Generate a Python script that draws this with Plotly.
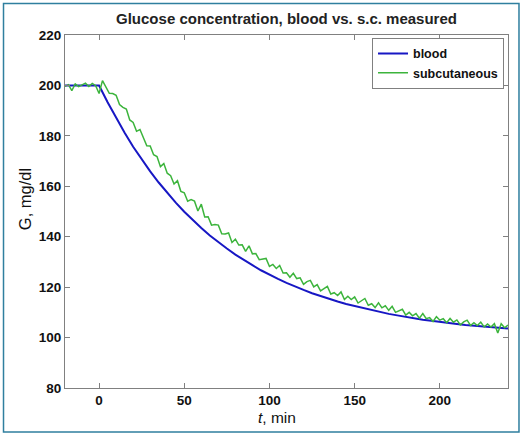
import plotly.graph_objects as go

# ---- data ----
blood_t = [-20, -15, -10, -5, 0, 5, 10, 15, 20, 25, 30, 35, 40, 45, 50, 55, 60, 65, 70, 75,
           80, 85, 90, 95, 100, 105, 110, 115, 120, 125, 130, 135, 140, 145, 150, 155, 160,
           165, 170, 175, 180, 185, 190, 195, 200, 205, 210, 215, 220, 225, 230, 235, 240]
blood_g = [200.0, 200.0, 200.0, 200.0, 200.0, 193.3, 187.0, 181.2, 175.7, 170.7, 165.9, 161.5,
           157.4, 153.5, 149.9, 146.6, 143.5, 140.5, 137.8, 135.3, 132.9, 130.7, 128.7, 126.7,
           124.9, 123.3, 121.7, 120.2, 118.9, 117.6, 116.4, 115.3, 114.3, 113.3, 112.5, 111.6,
           110.8, 110.1, 109.4, 108.8, 108.2, 107.7, 107.1, 106.7, 106.2, 105.8, 105.4, 105.0,
           104.7, 104.4, 104.1, 103.8, 103.6]

sc_t = list(range(-20, 241, 2))
sc_g = [199.6, 200.3, 197.9, 200.6, 199.5, 200.2, 200.9, 199.6, 200.8, 199.9,
        196.8, 201.9, 199.6, 196.9, 196.8, 196.1, 192.4, 191.3, 190.6, 186.3,
        185.3, 181.8, 182.5, 179.0, 176.1, 176.0, 172.5, 171.8, 167.8, 169.0,
        165.2, 164.2, 160.9, 162.2, 158.0, 157.4, 154.1, 154.7, 154.1, 150.2,
        152.9, 147.8, 147.9, 144.6, 144.8, 144.6, 141.2, 141.1, 141.5, 137.7,
        139.0, 136.7, 136.8, 134.2, 136.4, 133.2, 133.3, 130.9, 131.1, 131.4,
        128.2, 129.0, 127.4, 128.6, 125.6, 125.7, 123.9, 125.5, 123.4, 123.7,
        121.1, 122.2, 122.7, 120.1, 121.0, 118.5, 119.4, 120.3, 117.3, 117.8,
        116.7, 118.1, 115.1, 116.4, 115.1, 116.1, 113.7, 114.7, 115.5, 112.8,
        113.4, 111.9, 113.8, 111.8, 112.6, 110.8, 112.4, 110.0, 110.6, 111.2,
        108.9, 110.0, 108.6, 109.5, 107.7, 109.5, 107.5, 107.9, 106.4, 108.3,
        106.9, 107.5, 105.9, 107.6, 106.1, 107.0, 105.0, 106.2, 106.9, 104.8,
        105.9, 104.8, 106.1, 104.2, 105.4, 104.2, 105.5, 101.8, 105.5, 103.9,
        105.0]

x_ticks = [0, 50, 100, 150, 200]
y_ticks = [80, 100, 120, 140, 160, 180, 200, 220]

title_text = "Glucose concentration, blood vs. s.c. measured"
x_title = "<i>t</i>, min"
y_title = "G, mg/dl"

FONT = "Liberation Sans, Arial, Helvetica, sans-serif"

fig = go.Figure()
fig.add_trace(go.Scatter(x=blood_t, y=blood_g, mode="lines", name="blood",
                         line=dict(color="#1717c4", width=2)))
fig.add_trace(go.Scatter(x=sc_t, y=sc_g, mode="lines", name="subcutaneous",
                         line=dict(color="#3cb43c", width=1.5)))

axis_common = dict(showline=True, linecolor="#808080", linewidth=1, mirror="ticks",
                   ticks="inside", ticklen=5, tickcolor="#808080", showgrid=False,
                   zeroline=False,
                   tickfont=dict(family=FONT, size=13.5, color="#111111", weight="bold"))

fig.update_layout(
    width=525, height=437,
    margin=dict(l=65, r=17, t=35, b=49),
    paper_bgcolor="white", plot_bgcolor="white",
    title=dict(text=title_text, x=0.5, xref="paper", xanchor="center",
               y=1 - 19 / 437, yref="container", yanchor="middle",
               font=dict(family=FONT, size=15, color="#222222", weight="bold")),
    xaxis=dict(range=[-20, 240], tickvals=x_ticks, **axis_common),
    yaxis=dict(range=[80, 220], tickvals=y_ticks, **axis_common),
    legend=dict(x=0.991, xanchor="right", y=0.992, yanchor="top",
                bordercolor="#808080", borderwidth=1, bgcolor="white",
                itemwidth=30, tracegroupgap=0,
                font=dict(family=FONT, size=12.5, color="#111111", weight="bold")),
    showlegend=True,
)

# axis titles placed where the reference has them
fig.add_annotation(text=x_title, xref="paper", yref="paper", x=0.4786, y=-0.0835,
                   xanchor="center", yanchor="middle", showarrow=False,
                   font=dict(family=FONT, size=15.5, color="#111111"))
fig.add_annotation(text=y_title, xref="paper", yref="paper", x=-0.0903, y=0.535,
                   xanchor="center", yanchor="middle", showarrow=False, textangle=-90,
                   font=dict(family=FONT, size=16.5, color="#111111"))

# outer teal frame around the whole picture
fig.add_shape(type="rect", xref="paper", yref="paper",
              x0=-0.1388, x1=1.0248, y0=-0.1246, y1=1.0892,
              line=dict(color="#2f7f9f", width=1.5), layer="below")

fig.write_html("out.html", config={"displayModeBar": False},
               post_script="document.body.style.margin='0';document.body.style.padding='0';")
